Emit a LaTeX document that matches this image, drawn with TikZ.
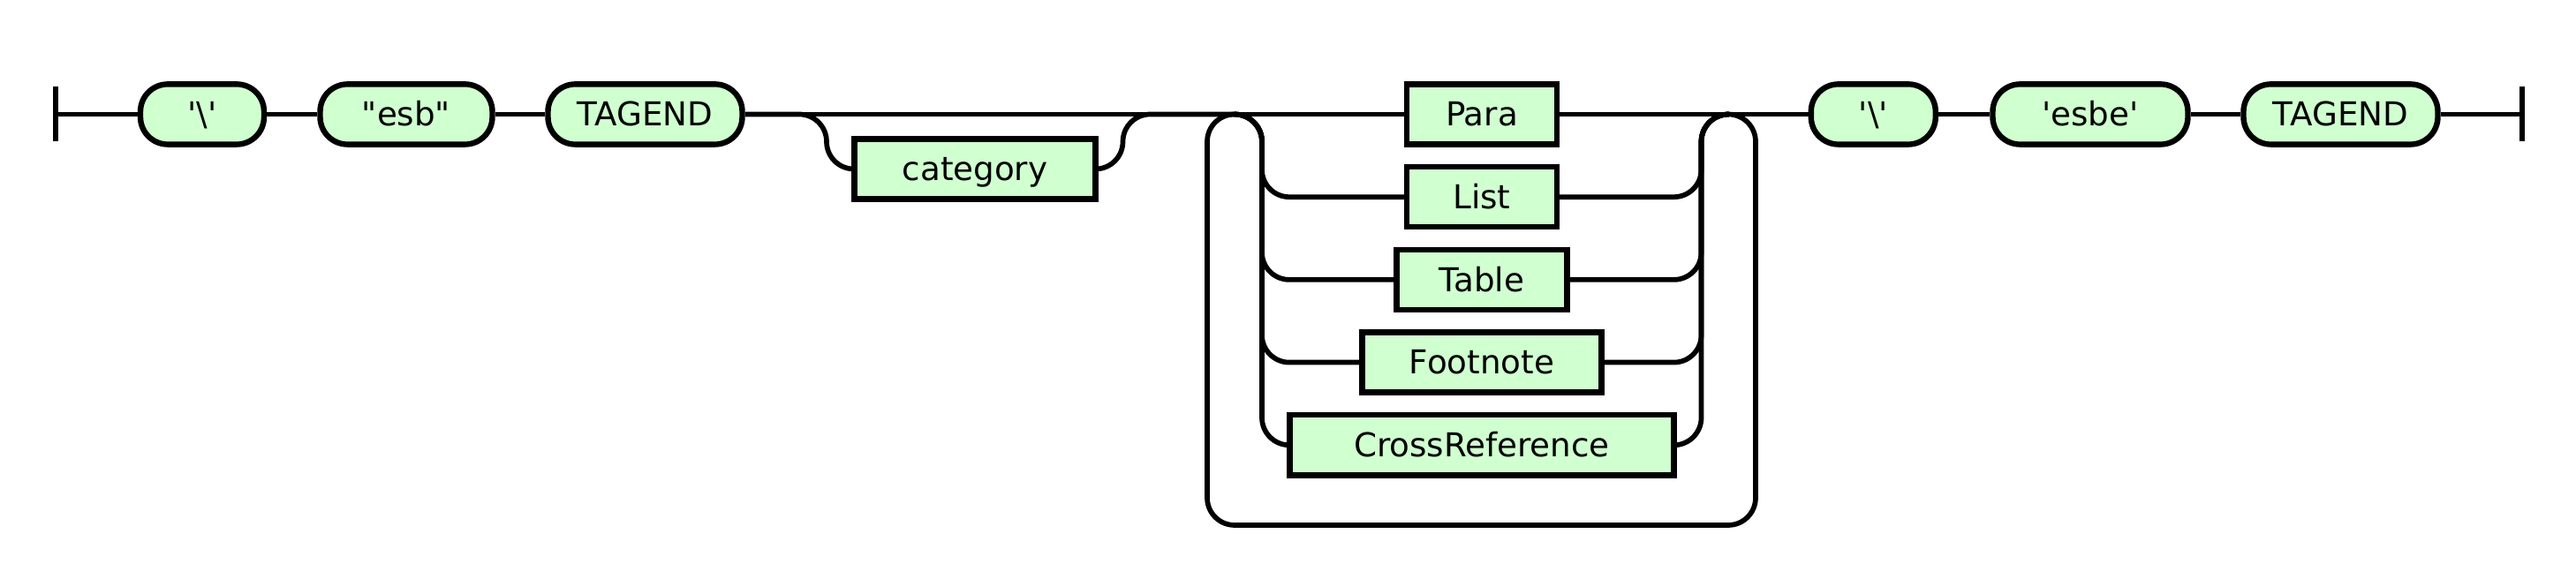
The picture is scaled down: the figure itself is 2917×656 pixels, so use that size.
\documentclass[tikz,border=0pt]{standalone}
\usepackage{fontspec}
\setmainfont{DejaVu Sans}
\usetikzlibrary{positioning}
\definecolor{railfill}{HTML}{D0FFD0}

\tikzset{
  rail/.style={line width=0.57mm},
  railbend/.style={rail, rounded corners=3.1mm},
  term/.style={draw, fill=railfill, line width=0.64mm, rounded corners=3.1mm,
    minimum height=6.82mm, inner sep=0pt, text height=7.6pt, text depth=0pt,
    font=\fontsize{10.6}{12}\selectfont},
  nonterm/.style={term, rounded corners=0pt},
}

\begin{document}
\begin{tikzpicture}[x=0.1mm, y=-0.1mm]
    \useasboundingbox (0,0) rectangle (2917,656);

    % ends of the rail
    \coordinate (start) at (63,129.5);
    \coordinate (stop) at (2856,129.5);
    \draw[rail] (start) ++(0,-31) -- ++(0,62);
    \draw[rail] (stop) ++(0,-31) -- ++(0,62);

    % opening tag
    \node[term, minimum width=14mm] (bsA) at (229,129.5) {\textquotesingle\textbackslash\textquotesingle};
    \node[term, minimum width=19.5mm] (esb) at (460,129.5) {\textquotedbl esb\textquotedbl};
    \node[term, minimum width=22mm] (tagA) at (730.5,129.5) {TAGEND};

    % optional category
    \node[nonterm, minimum width=27.3mm] (cat) at (1104,191.5) {category};
    \coordinate (optL) at (936,129.5);
    \coordinate (optR) at (1271.5,129.5);

    % choice inside the loop
    \node[nonterm, minimum width=17mm] (para) at (1678,129.5) {Para};
    \node[nonterm, minimum width=17mm] (list) at (1678,223.2) {List};
    \node[nonterm, minimum width=19.3mm] (tbl) at (1678,316.9) {Table};
    \node[nonterm, minimum width=27.1mm] (foot) at (1678,410.6) {Footnote};
    \node[nonterm, minimum width=43.5mm] (xref) at (1678,504.3) {CrossReference};
    \coordinate (loopL) at (1398,129.5);
    \coordinate (loopR) at (1957,129.5);
    \coordinate (chL) at (1429,129.5);
    \coordinate (chR) at (1926.5,129.5);
    \coordinate (botL) at (1367,595);
    \coordinate (botR) at (1988,595);

    % closing tag
    \node[term, minimum width=14.1mm] (bsB) at (2121.3,129.5) {\textquotesingle\textbackslash\textquotesingle};
    \node[term, minimum width=22.1mm] (esbe) at (2367,129.5) {\textquotesingle esbe\textquotesingle};
    \node[term, minimum width=22mm] (tagB) at (2650.5,129.5) {TAGEND};

    % main line
    \draw[rail] (start) -- (bsA.west) (bsA.east) -- (esb.west)
      (esb.east) -- (tagA.west) (tagA.east) -- (para.west)
      (para.east) -- (bsB.west) (bsB.east) -- (esbe.west)
      (esbe.east) -- (tagB.west) (tagB.east) -- (stop);

    % bypass through category
    \draw[railbend] (tagA.east) -- (optL) |- (cat.west);
    \draw[railbend] (cat.east) -| (optR) -- (loopL);

    % branches of the choice
    \foreach \n in {list,tbl,foot,xref} {
      \draw[railbend] (loopL) -| (chL |- \n.west) -- (\n.west);
      \draw[railbend] (\n.east) -| (chR) -- (loopR);
    }

    % loop back
    \draw[railbend] (loopR) -| (botR) -- (botL) |- (loopL);
\end{tikzpicture}
\end{document}
